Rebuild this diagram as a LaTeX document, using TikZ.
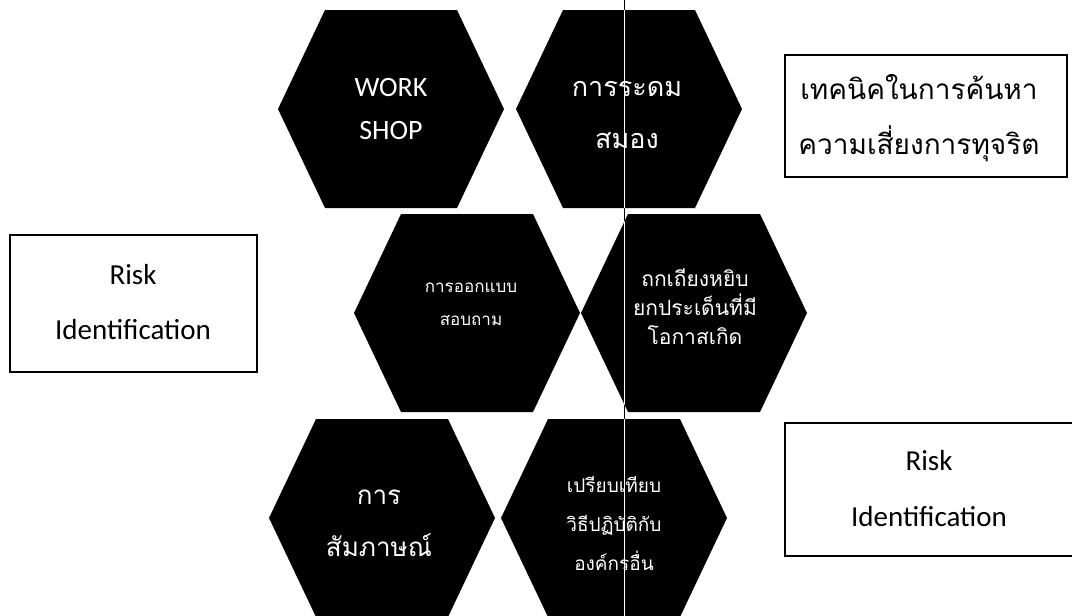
\documentclass[tikz,border=0pt]{standalone}
\usepackage{fontspec}
\setmainfont{Carlito}
\newfontfamily\thai[Script=Thai]{Loma}
\begin{document}
\begin{tikzpicture}[x=1pt,y=-1pt,
  hexa/.pic={\fill[black] (-113,0) -- (-66,-99) -- (66,-99) -- (113,0) -- (66,99) -- (-66,99) -- cycle;},
  hextext/.style={text=white, align=center, inner sep=0pt},
  framebox/.style={draw=black, line width=1.6pt},
  boxtext/.style={text=black, align=center, inner sep=0pt}]
\useasboundingbox (0,0) rectangle (1072,616);
\fill[white] (0,0) rectangle (1072,616);
% scan fold line
\draw[black, line width=0.8pt] (624,0) -- (624,616);
% hexagons
\pic at (391,109) {hexa};
\pic at (629,109) {hexa};
\pic at (467,313) {hexa};
\pic at (694,313) {hexa};
\pic at (382,518) {hexa};
\pic at (614,518) {hexa};
\begin{scope}
\clip (629,109) ++(-113,0) -- ++(47,-99) -- ++(132,0) -- ++(47,99) -- ++(-47,99) -- ++(-132,0) -- cycle
      (694,313) ++(-113,0) -- ++(47,-99) -- ++(132,0) -- ++(47,99) -- ++(-47,99) -- ++(-132,0) -- cycle
      (614,518) ++(-113,0) -- ++(47,-99) -- ++(132,0) -- ++(47,99) -- ++(-47,99) -- ++(-132,0) -- cycle;
\draw[white, line width=0.8pt] (624,0) -- (624,616);
\end{scope}
% hexagon texts
\node[hextext, font=\fontsize{28}{43}\selectfont] (h1) at (391,109) {WORK\\SHOP};
\node[hextext, font=\thai\fontsize{27}{52}\selectfont] (h2) at (627,115) {การระดม\\สมอง};
\node[hextext, font=\thai\fontsize{17}{33}\selectfont] (h3) at (471,304) {การออกแบบ\\สอบถาม};
\node[hextext, font=\thai\fontsize{21}{29}\selectfont] (h4) at (695,307) {ถกเถียงหยิบ\\ยกประเด็นที่มี\\โอกาสเกิด};
\node[hextext, font=\thai\fontsize{26}{52}\selectfont] (h5) at (379,523) {การ\\สัมภาษณ์};
\node[hextext, font=\thai\fontsize{19}{39}\selectfont] (h6) at (614,523) {เปรียบเทียบ\\วิธีปฏิบัติกับ\\องค์กรอื่น};
% boxes
\draw[framebox] (785,55) rectangle (1067,177);
\node[boxtext, font=\thai\fontsize{28}{55}\selectfont] (t1) at (919,118) {เทคนิคในการค้นหา\\ความเสี่ยงการทุจริต};
\draw[framebox] (10,235) rectangle (257,372);
\node[boxtext, font=\fontsize{29}{55}\selectfont] (r1) at (133,302) {Risk\\Identification};
\draw[framebox] (1080,423) -- (785,423) -- (785,556) -- (1080,556);
\node[boxtext, font=\fontsize{29}{56}\selectfont] (r2) at (929,489) {Risk\\Identification};
\end{tikzpicture}
\end{document}
